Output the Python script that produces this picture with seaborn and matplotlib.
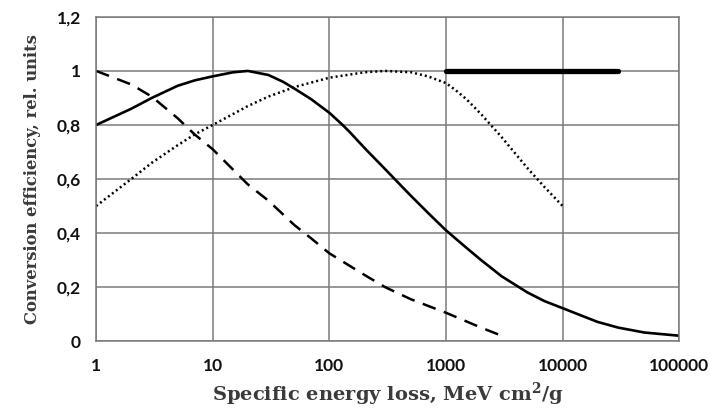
import matplotlib
matplotlib.use("Agg")
from matplotlib import pyplot as plt
import numpy as np
import pandas as pd
import seaborn as sns

# values
solid_x = [1, 2, 3, 5, 7, 10, 15, 20, 30, 40, 50, 70, 100, 130, 150, 200, 250, 300,
           400, 500, 700, 1000, 1500, 2000, 3000, 5000, 7000, 10000, 15000, 20000,
           30000, 50000, 100000]
solid_y = [0.80, 0.86, 0.90, 0.945, 0.965, 0.98, 0.995, 1.0, 0.985, 0.96, 0.935,
           0.895, 0.845, 0.80, 0.773, 0.715, 0.672, 0.637, 0.581, 0.538, 0.475,
           0.41, 0.345, 0.30, 0.24, 0.18, 0.148, 0.122, 0.092, 0.071, 0.05,
           0.032, 0.02]

dashed_x = [1, 2, 3, 5, 7, 10, 20, 30, 50, 70, 100, 200, 300, 500, 1000, 2000, 3000]
dashed_y = [1.0, 0.95, 0.905, 0.825, 0.765, 0.71, 0.58, 0.52, 0.43, 0.38, 0.325,
            0.245, 0.2, 0.155, 0.105, 0.05, 0.02]

dotted_x = [1, 2, 3, 5, 7, 10, 20, 30, 50, 100, 200, 300, 500, 700, 1000, 1200,
            1500, 2000, 3000, 5000, 7000, 10000]
dotted_y = [0.5, 0.6, 0.66, 0.725, 0.765, 0.80, 0.87, 0.905, 0.94, 0.975, 0.995, 1.0,
            0.995, 0.98, 0.955, 0.93, 0.895, 0.84, 0.755, 0.64, 0.57, 0.5]

thick_x = [1000, 30000]
thick_y = [1.0, 1.0]

x_ticks = [1, 10, 100, 1000, 10000, 100000]
x_labels = ["1", "10", "100", "1000", "10000", "100000"]
y_ticks = [0, 0.2, 0.4, 0.6, 0.8, 1.0, 1.2]
y_labels = ["0", "0,2", "0,4", "0,6", "0,8", "1", "1,2"]

sns.set_style("white")
plt.rcParams["font.family"] = ["Lato", "DejaVu Sans"]
plt.rcParams["mathtext.fontset"] = "dejavuserif"
plt.rcParams["mathtext.default"] = "bf"

fig = plt.figure(figsize=(7.12, 4.12), dpi=100)
ax = fig.add_axes([0.135, 0.172, 0.819, 0.787])

sns.lineplot(x=solid_x, y=solid_y, ax=ax, color="black", lw=1.9)
sns.lineplot(x=dashed_x, y=dashed_y, ax=ax, color="black", lw=1.8)
ax.lines[-1].set_dashes((5.5, 3.5))
sns.lineplot(x=dotted_x, y=dotted_y, ax=ax, color="black", lw=1.8)
ax.lines[-1].set_dashes((0.8, 1.2))
sns.lineplot(x=thick_x, y=thick_y, ax=ax, color="black", lw=3.8)
ax.lines[-1].set_solid_capstyle("round")

ax.set_xscale("log")
ax.set_xlim(1, 100000)
ax.set_ylim(0, 1.2)
ax.set_xticks(x_ticks)
ax.set_xticklabels(x_labels, fontweight="bold")
ax.minorticks_off()
ax.set_yticks(y_ticks)
ax.set_yticklabels(y_labels, fontweight="bold")

ax.grid(True, color="#7a7a7a", lw=1.1)
ax.set_axisbelow(True)
for s in ax.spines.values():
    s.set_color("#7a7a7a")
    s.set_linewidth(1.1)

ax.tick_params(axis="both", which="major", direction="out", length=5, width=1.1,
               color="#7a7a7a", labelsize=12.5, labelcolor="#111111")
ax.tick_params(axis="y", pad=6)
ax.tick_params(axis="x", pad=7)

ax.set_xlabel(r"Specific energy loss, MeV cm$^2$/g", family="DejaVu Serif",
              fontweight="bold", fontsize=14, color="#3a3a3a", labelpad=5)
ax.set_ylabel("Conversion efficiency, rel. units", family="DejaVu Serif",
              fontweight="bold", fontsize=11.8, color="#3a3a3a", labelpad=11)

fig.savefig("out.png", dpi=100)
